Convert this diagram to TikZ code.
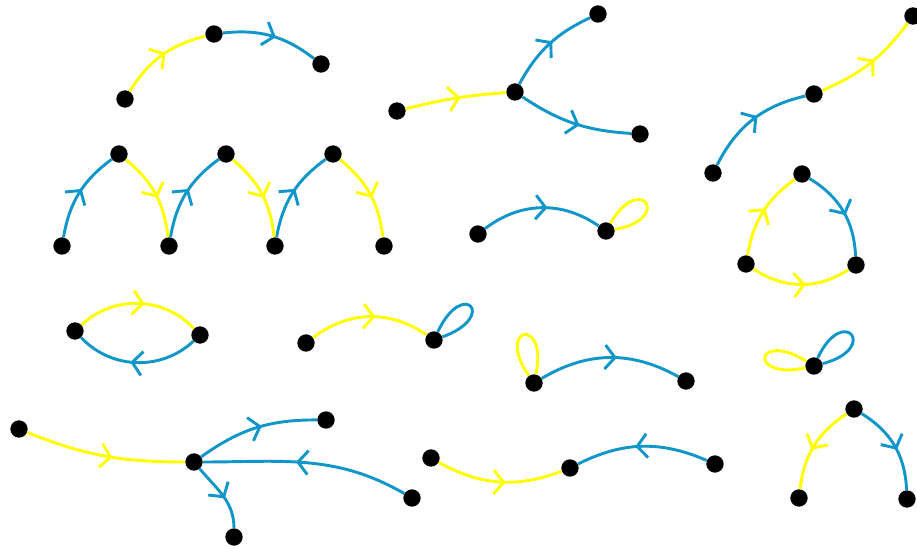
\documentclass[tikz,border=0pt]{standalone}
\usepackage{tikz}
\usetikzlibrary{arrows.meta,decorations.markings}
\definecolor{grblue}{RGB}{16,150,200}
\definecolor{gryellow}{RGB}{255,255,0}

\begin{document}
\begin{tikzpicture}[x=0.03cm,y=0.03cm,
  dot/.style={circle,fill=black,inner sep=0pt,minimum size=0.52cm},
  edg/.style={line width=2.5pt,postaction={decorate},
    decoration={markings,mark=at position 0.55 with {\arrow{Straight Barb[length=0.3cm,width=0.72cm]}}}},
  ylw/.style={edg,gryellow},
  blu/.style={edg,grblue},
  lp/.style={line width=2.5pt,min distance=1.8cm}]
\useasboundingbox (0,0) rectangle (917,548);
% vertices
\node[dot] (a1) at (125,449) {};
\node[dot] (a2) at (214,514) {};
\node[dot] (a3) at (321,484) {};
\node[dot] (b1) at (397,437) {};
\node[dot] (b2) at (515,456) {};
\node[dot] (b3) at (598,534) {};
\node[dot] (b4) at (640,414) {};
\node[dot] (c1) at (713,375) {};
\node[dot] (c2) at (814,454) {};
\node[dot] (c3) at (913,532) {};
\foreach \i/\x/\y in {1/62/302,2/119/394,3/169/302,4/226/394,5/275/302,6/333/394,7/384/302}
  \node[dot] (d\i) at (\x,\y) {};
\node[dot] (e1) at (478,314) {};
\node[dot] (e2) at (606,317) {};
\node[dot] (f1) at (802,374) {};
\node[dot] (f2) at (746,284) {};
\node[dot] (f3) at (856,283) {};
\node[dot] (g1) at (75,217) {};
\node[dot] (g2) at (200,213) {};
\node[dot] (h1) at (306,205) {};
\node[dot] (h2) at (434,208) {};
\node[dot] (i1) at (534,165) {};
\node[dot] (i2) at (686,167) {};
\node[dot] (j) at (814,182) {};
\node[dot] (k1) at (19,119) {};
\node[dot] (k2) at (194,86) {};
\node[dot] (k3) at (326,128) {};
\node[dot] (k4) at (412,50) {};
\node[dot] (k5) at (234,11) {};
\node[dot] (l1) at (431,90) {};
\node[dot] (l2) at (570,80) {};
\node[dot] (l3) at (715,84) {};
\node[dot] (m1) at (854,139) {};
\node[dot] (m2) at (799,50) {};
\node[dot] (m3) at (907,49) {};
% edges
\draw[ylw] (a1) to[bend left=22] (a2);
\draw[blu] (a2) to[bend left=22] (a3);
\draw[ylw] (b1) to[bend left=5] (b2);
\draw[blu] (b2) to[bend left=18] (b3);
\draw[blu] (b2) to[bend right=15] (b4);
\draw[blu] (c1) to[bend left=25] (c2);
\draw[ylw] (c2) to[bend right=15] (c3);
\foreach \s/\t in {1/2,3/4,5/6}
  \draw[blu] (d\s) to[bend left=22] (d\t);
\foreach \s/\t in {2/3,4/5,6/7}
  \draw[ylw] (d\s) to[bend left=22] (d\t);
\draw[blu] (e1) to[bend left=36] (e2);
\draw[lp,gryellow] (e2) to[out=60,in=10] (e2);
\draw[ylw] (f2) to[bend left=22] (f1);
\draw[blu] (f1) to[bend left=28] (f3);
\draw[ylw] (f2) to[bend right=33] (f3);
\draw[ylw] (g1) to[bend left=45] (g2);
\draw[blu] (g2) to[bend left=45] (g1);
\draw[ylw] (h1) to[bend left=36] (h2);
\draw[lp,grblue] (h2) to[out=65,in=20] (h2);
\draw[lp,gryellow] (i1) to[out=125,in=78] (i1);
\draw[blu] (i1) to[bend left=30] (i2);
\draw[lp,gryellow] (j) to[out=192,in=148] (j);
\draw[lp,grblue] (j) to[out=65,in=15] (j);
\draw[ylw] (k1) to[out=-22,in=180] (k2);
\draw[blu] (k2) to[bend left=18] (k3);
\draw[blu] (k4) to[out=150,in=0] (k2);
\draw[blu] (k2) to[out=-50,in=90] (k5);
\draw[ylw] (l1) to[bend right=25] (l2);
\draw[blu] (l3) to[bend right=25] (l2);
\draw[ylw] (m1) to[bend right=25] (m2);
\draw[blu] (m1) to[bend left=28] (m3);
\end{tikzpicture}
\end{document}
